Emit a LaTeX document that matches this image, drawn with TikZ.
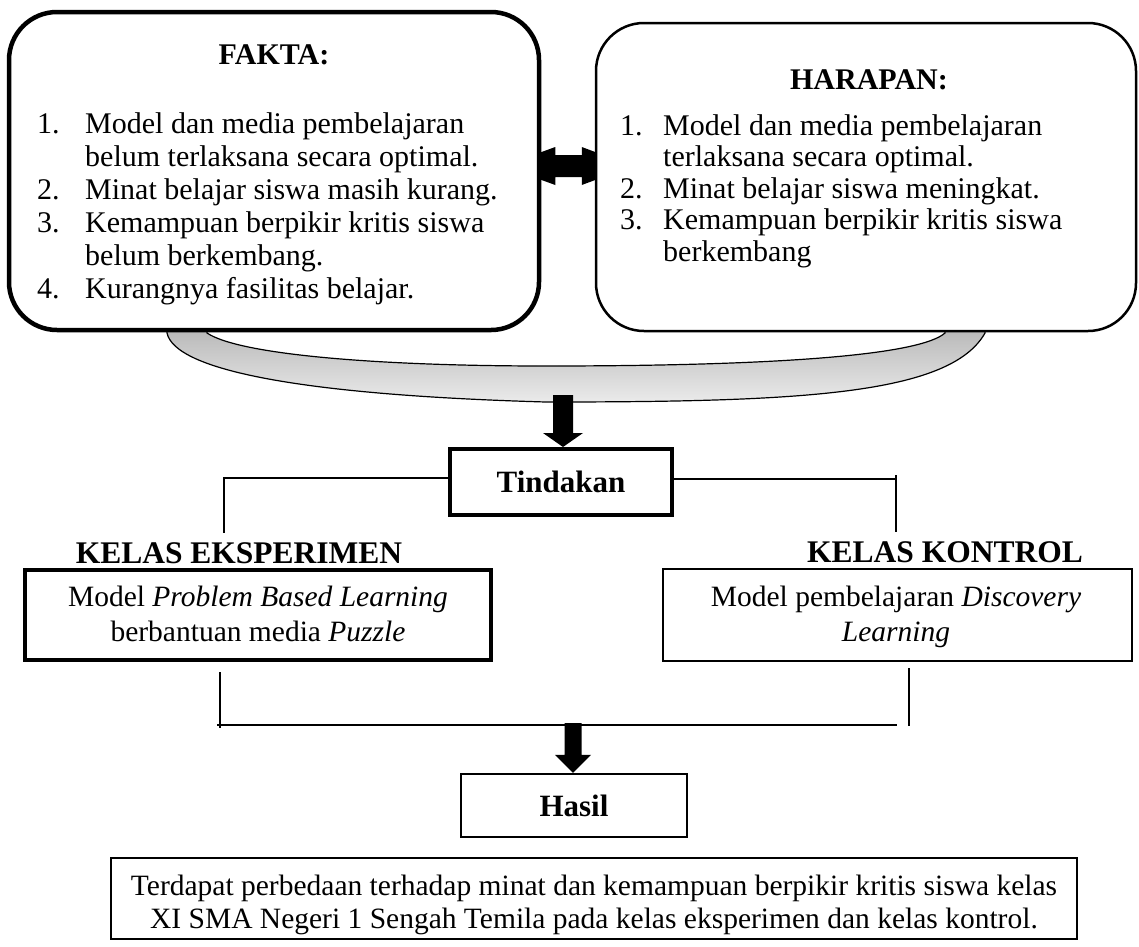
\documentclass[tikz,border=0pt]{standalone}
\usepackage{fontspec}
\setmainfont{Liberation Serif}
\usetikzlibrary{calc}
\pgfdeclarelayer{background}
\pgfsetlayers{background,main}
\newcommand{\fz}[2]{\fontsize{#1pt}{#2pt}\selectfont}
\begin{document}
\begin{tikzpicture}[x=1pt,y=-1pt,
  rbox/.style={draw, fill=white, rounded corners=48pt, inner sep=0pt},
  sbox/.style={draw, fill=white, inner sep=0pt},
  ttl/.style={font=\fz{30}{36}\bfseries, inner sep=0pt},
  lst/.style={font=\fz{30}{33}, inner sep=0pt, anchor=base west},
  boxtxt/.style={font=\fz{29.5}{35}, align=center, inner sep=0pt},
  kls/.style={font=\fz{31.5}{36}\bfseries, inner sep=0pt},
  conn/.style={line width=1.2pt},
  blk/.style={fill=black}
]
\useasboundingbox (0,0) rectangle (1139,946);

% upper boxes
\node[rbox, line width=4.5pt, minimum width=530pt, minimum height=318pt] (fakta) at (274,171) {};
\node[rbox, line width=2.5pt, minimum width=540pt, minimum height=308pt] (harapan) at (866,177) {};

\node[ttl] (ftitle) at (274,55) {FAKTA:};
\node[lst] (flist) at (37,133) {\begin{tabular}[t]{@{}p{48pt}@{}l@{}}
1. & Model dan media pembelajaran\\
   & belum terlaksana secara optimal.\\
2. & Minat belajar siswa masih kurang.\\
3. & Kemampuan berpikir kritis siswa\\
   & belum berkembang.\\
4. & Kurangnya fasilitas belajar.
\end{tabular}};

\node[ttl] (htitle) at (869,80) {HARAPAN:};
\node[lst, font=\fz{30}{31.5}] (hlist) at (620,135) {\begin{tabular}[t]{@{}p{43pt}@{}l@{}}
1. & Model dan media pembelajaran\\
   & terlaksana secara optimal.\\
2. & Minat belajar siswa meningkat.\\
3. & Kemampuan berpikir kritis siswa\\
   & berkembang
\end{tabular}};

% Tindakan
\node[sbox, line width=4pt, minimum width=222pt, minimum height=66pt, font=\fz{31}{36}\bfseries] (tind) at (561,482) {Tindakan};

% class labels and boxes
\node[kls] (keks) at (239,553) {KELAS EKSPERIMEN};
\node[kls] (kkon) at (945,552) {KELAS KONTROL};
\node[sbox, line width=4.5pt, minimum width=466pt, minimum height=90pt] (eks) at (258,615) {};
\node[sbox, line width=2pt, minimum width=469pt, minimum height=92pt] (kon) at (897.5,615) {};
\node[boxtxt] (ekstxt) at (258,614) {Model \textit{Problem Based Learning}\\berbantuan media \textit{Puzzle}};
\node[boxtxt] (kontxt) at (896,617) {Model pembelajaran \textit{Discovery}\\\textit{Learning}};

% Hasil
\node[sbox, line width=2.5pt, minimum width=226pt, minimum height=63pt, font=\fz{31}{36}\bfseries] (hasil) at (574,805.5) {Hasil};

% conclusion
\node[sbox, line width=2.5pt, minimum width=966pt, minimum height=81pt] (concl) at (594,898.5) {};
\node[font=\fz{29.5}{32.5}, align=center, inner sep=0pt] (concltxt) at (594,905) {Terdapat perbedaan terhadap minat dan kemampuan berpikir kritis siswa kelas\\XI SMA Negeri 1 Sengah Temila pada kelas eksperimen dan kelas kontrol.};

% connectors around Tindakan
\coordinate (lc) at (224,478);
\coordinate (ld) at (224,533);
\coordinate (rc) at (896,479);
\coordinate (rt) at (896,475);
\coordinate (rd) at (896,532);
\draw[conn] (tind.west |- lc) -- (lc) -- (ld);
\draw[conn] (tind.east |- rc) -- (rc);
\draw[conn] (rt) -- (rd);

% connectors to Hasil
\coordinate (bl) at (220,672);
\coordinate (blc) at (220,728);
\coordinate (hl) at (217,725);
\coordinate (hr) at (897,725);
\coordinate (br) at (909,668);
\coordinate (brc) at (909,726);
\draw[conn] (bl) -- (blc);
\draw[conn] (hl) -- (hr);
\draw[conn] (br) -- (brc);

\begin{pgfonlayer}{background}
% curved band
\path[draw=black, line width=1.2pt, top color=black!30, bottom color=black!8]
 (167,320) -- (167,333) .. controls (175,370) and (300,395) .. (546,402)
 .. controls (800,402) and (950,395) .. (985,333) -- (985,320) -- (945,320) -- (945,333)
 .. controls (920,355) and (780,366) .. (546,366)
 .. controls (380,366) and (240,355) .. (207,333) -- (207,320) -- cycle;
% double arrow between boxes
\coordinate (dl) at ($(fakta.east)+(0,-5)$);
\coordinate (dr) at ($(harapan.west)+(0,-11)$);
\fill[blk] ($(dl)+(-38,0)$) -- ($(dl)+(14,-19)$) -- ($(dl)+(14,-11)$) -- ($(dr)+(-13,-11)$)
  -- ($(dr)+(-13,-19)$) -- ($(dr)+(38,0)$) -- ($(dr)+(-13,19)$) -- ($(dr)+(-13,11)$)
  -- ($(dl)+(14,11)$) -- ($(dl)+(14,19)$) -- cycle;
% block arrow down to Tindakan
\coordinate (bandbot) at (563,395);
\coordinate (t1) at (bandbot |- tind.north);
\fill[blk] ($(bandbot)+(-10,0)$) -- ($(t1)+(-10,-14)$) -- ($(t1)+(-20,-14)$) -- (t1)
  -- ($(t1)+(20,-14)$) -- ($(t1)+(10,-14)$) -- ($(bandbot)+(10,0)$) -- cycle;
% block arrow down to Hasil
\coordinate (jn) at (573,723);
\coordinate (t2) at (jn |- hasil.north);
\fill[blk] ($(jn)+(-8.5,0)$) -- ($(t2)+(-8.5,-18)$) -- ($(t2)+(-18,-18)$) -- (t2)
  -- ($(t2)+(18,-18)$) -- ($(t2)+(8.5,-18)$) -- ($(jn)+(8.5,0)$) -- cycle;
\end{pgfonlayer}
\end{tikzpicture}
\end{document}
